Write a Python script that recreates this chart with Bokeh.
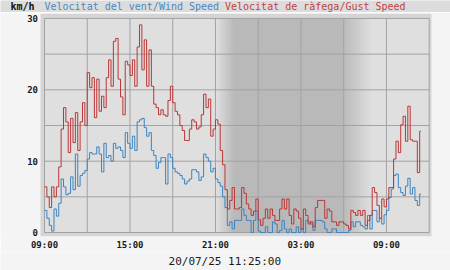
import numpy as np
from bokeh.plotting import figure
from bokeh.models import Range1d, FixedTicker
from bokeh.core.properties import value
from bokeh.layouts import column
from bokeh.embed import file_html
from bokeh.resources import INLINE

# ---------------- data (10-minute samples from 09:00, km/h) ----------------
step_minutes = 10
end_hours = 26 + 25 / 60          # last record 11:25 next day (hours after 09:00)

wind_speed = [
    3.1, 2.0, 1.0, 0.2, 3.3, 2.3, 4.1, 7.5, 6.4, 5.3, 5.5, 7.8, 6.0, 11.0, 6.5, 8.0,
    8.3, 8.7, 10.3, 11.2, 11.0, 11.0, 12.0, 11.0, 8.5, 12.5, 10.5, 10.8, 10.0, 12.5,
    11.8, 12.0, 11.5, 10.5, 14.0, 12.5, 11.8, 13.5, 11.5, 15.5, 15.8,
    16.0, 14.7, 13.5, 14.0, 11.5, 10.8, 9.0, 9.8, 10.5, 10.5, 6.8, 11.0, 10.5, 9.0,
    8.5, 8.3, 8.0, 7.5, 6.8, 7.2, 7.5, 8.8, 8.8, 8.5, 7.3, 7.8, 11.0, 10.5, 10.0,
    8.5, 9.0, 7.5, 7.0, 6.5, 5.0, 3.5, 1.0, 1.5,
    0.5, 1.7, 1.7, 1.7, 3.3, 2.4, 1.7, 1.7, 0.0, 1.7, 3.0, 0.2, 0.0, 0.0, 0.8, 0.0,
    0.0, 1.5, 1.2, 0.0, 0.3, 1.7, 0.5, 0.0, 0.5, 0.0, 0.0, 0.8, 0.0, 0.5, 0.0, 1.7,
    1.5, 1.2, 0.3, 1.7, 1.7, 1.7, 1.5, 0.5, 0.0, 0.0, 0.5, 0.5,
    0.0, 0.0, 0.0, 0.0, 0.0, 0.3, 1.5, 0.8, 1.5, 1.5, 1.0, 0.8, 0.5, 2.4, 0.5, 3.1,
    3.1, 1.5, 2.0, 1.2, 2.5, 3.1, 4.9, 6.1, 8.0, 8.2, 6.3, 5.6, 5.2, 6.5, 7.6, 5.4,
    6.3, 4.5, 3.8, 5.4,
]

wind_gust = [
    6.4, 5.0, 3.5, 6.4, 5.0, 6.4, 9.2, 14.5, 17.5, 15.5, 11.2, 16.0, 12.6, 16.8, 11.5,
    15.5, 18.2, 15.0, 22.4, 20.3, 21.7, 16.1, 21.5, 17.0, 19.1, 17.5, 21.7, 24.2, 20.5,
    26.8, 27.2, 21.5, 19.0, 16.5, 24.0, 23.5, 22.0, 24.2, 20.5, 26.0, 29.1,
    22.8, 27.0, 20.5, 25.6, 20.5, 18.0, 17.5, 16.5, 17.2, 16.5, 16.3, 18.5, 20.5, 18.2,
    17.0, 16.5, 15.0, 14.3, 12.9, 12.9, 14.5, 15.8, 15.5, 14.5, 14.8, 16.5, 19.4, 17.5,
    18.7, 13.5, 14.5, 15.8, 15.2, 11.5, 9.5, 6.0, 3.3, 4.5,
    6.3, 3.3, 3.3, 3.5, 6.3, 5.5, 4.0, 3.3, 2.4, 3.0, 4.7, 1.8, 1.0, 2.0, 3.3, 2.0,
    3.3, 2.4, 1.7, 1.7, 3.3, 4.7, 3.3, 4.7, 2.4, 1.2, 3.3, 3.0, 2.0, 0.5, 3.3, 2.4,
    1.2, 1.5, 0.8, 3.5, 4.5, 4.5, 4.5, 2.0, 3.3, 3.0, 1.5, 1.5,
    1.0, 1.5, 1.5, 1.2, 1.0, 0.5, 3.1, 2.8, 2.4, 3.1, 2.4, 3.1, 1.0, 1.7, 2.4, 6.3,
    5.6, 3.8, 2.0, 4.7, 3.6, 4.7, 6.3, 6.3, 10.3, 12.8, 11.2, 15.1, 16.3, 12.8, 17.7,
    13.0, 12.8, 12.8, 8.4, 14.2,
]

x_ticks = [0, 6, 12, 18, 24]
x_tick_labels = ["09:00", "15:00", "21:00", "03:00", "09:00"]
x_grid = [3, 6, 9, 12, 15, 18, 21, 24]
y_ticks = [0, 10, 20, 30]
y_tick_labels = ["0", "10", "20", "30"]
y_grid = [5, 10, 15, 20, 25]
x_min, x_max = 0, 27
y_min, y_max = 0, 30
dusk = (12.07, 13.26)   # hours after 09:00
dawn = (21.0, 22.9)

unit_text = "km/h"
wind_title = "Velocitat del vent/Wind Speed"
gust_title = "Velocitat de ràfega/Gust Speed"
date_text = "20/07/25 11:25:00"

# ---------------- styles ----------------
PAGE = "#f4f4f4"
HEADER = "#dcdcdc"
RIM = "#d5d5d5"
DAY = 223
NIGHT = 185
GRID = "#a2a2a2"
BLUE = "#3c84c2"
RED = "#bb3636"
BLUE_T = "#4a88c2"
RED_T = "#c04242"
MONO = "DejaVu Sans Mono"
W = 450


def strip(height, fill):
    f = figure(width=W, height=height, title=None,
               x_range=Range1d(0, W), y_range=Range1d(0, height),
               x_axis_type=None, y_axis_type=None,
               min_border_left=0, min_border_right=0, min_border_top=0,
               min_border_bottom=0, toolbar_location=None, output_backend="svg",
               background_fill_color=fill, border_fill_color=fill,
               outline_line_color=None)
    f.grid.visible = False
    return f


# ---------------- header ----------------
head = strip(12, HEADER)
head.text(x=[10], y=[6], text=[unit_text], text_color="#111111",
          text_font=value(MONO), text_font_size="10px", text_font_style="bold",
          text_baseline="middle", text_align="left")
head.text(x=[44], y=[6], text=[wind_title], text_color=BLUE_T,
          text_font=value(MONO), text_font_size="10px",
          text_baseline="middle", text_align="left")
head.text(x=[224.5], y=[6], text=[gust_title], text_color=RED_T,
          text_font=value(MONO), text_font_size="10px",
          text_baseline="middle", text_align="left")

# ---------------- main plot (frame spans the full width) ----------------
inner_left_px, inner_right_px = 44.0, 428.7
rim_left_px, rim_right_px = 40.0, 431.0
px_per_h = (inner_right_px - inner_left_px) / (x_max - x_min)
px_per_u = 7.2
p = figure(width=W, height=240,
           x_range=Range1d(x_min - inner_left_px / px_per_h,
                           x_max + (W - inner_right_px) / px_per_h),
           y_range=Range1d(y_min - 4 / px_per_u, y_max + 5 / px_per_u),
           y_axis_type=None,
           min_border_left=0, min_border_right=0, min_border_top=1,
           min_border_bottom=14, toolbar_location=None, output_backend="svg",
           background_fill_color=PAGE, border_fill_color=PAGE,
           outline_line_color=None)
p.grid.visible = False

# rim and inner plot area
p.quad(left=[x_min - (inner_left_px - rim_left_px) / px_per_h],
       right=[x_max + (rim_right_px - inner_right_px) / px_per_h],
       bottom=[y_min - 4 / px_per_u], top=[y_max + 5 / px_per_u],
       fill_color=RIM, line_color=None)
p.quad(left=[x_min], right=[x_max], bottom=[y_min], top=[y_max],
       fill_color="#%02x%02x%02x" % (DAY, DAY, DAY), line_color=None)

# night shading with soft edges (nested bands)
n = 14
for k in range(n + 1):
    left = dusk[0] + (dusk[1] - dusk[0]) * k / n
    right = dawn[1] - (dawn[1] - dawn[0]) * k / n
    t = (k + 1) / (n + 1)
    g = int(round(DAY + (NIGHT - DAY) * t))
    p.quad(left=[left], right=[right], bottom=[y_min], top=[y_max],
           fill_color="#%02x%02x%02x" % (g, g, g), line_color=None)

# grid lines
p.segment(x0=x_grid, y0=[y_min] * len(x_grid), x1=x_grid, y1=[y_max] * len(x_grid),
          line_color=GRID, line_width=1)
p.segment(x0=[x_min] * len(y_grid), y0=y_grid, x1=[x_max] * len(y_grid), y1=y_grid,
          line_color=GRID, line_width=1)
p.quad(left=[x_min], right=[x_max], bottom=[y_min], top=[y_max],
       fill_color=None, line_color=GRID, line_width=1)

# series
hours = [i * step_minutes / 60 for i in range(len(wind_speed))] + [end_hours]
ws = wind_speed + [wind_speed[-1]]
wg = wind_gust + [wind_gust[-1]]
p.step(hours, ws, mode="after", line_color=BLUE, line_width=1)
p.step(hours, wg, mode="after", line_color=RED, line_width=1)

# y tick labels (left of the rim, through the y scale)
p.text(x=[x_min - 6.5 / px_per_h] * len(y_ticks), y=y_ticks, text=y_tick_labels,
       text_color="#1a1a1a", text_font=value(MONO), text_font_size="9px",
       text_font_style="bold", text_align="right", text_baseline="middle")

# x axis
ax = p.xaxis
ax.axis_line_color = None
ax.major_tick_line_color = None
ax.minor_tick_line_color = None
ax.major_tick_out = 0
ax.major_tick_in = 0
ax.major_label_text_font = MONO
ax.major_label_text_font_style = "bold"
ax.major_label_text_font_size = "9px"
ax.major_label_text_color = "#1a1a1a"
ax.ticker = FixedTicker(ticks=x_ticks)
ax.major_label_overrides = {t: l for t, l in zip(x_ticks, x_tick_labels)}
ax.major_label_standoff = 3

# ---------------- footer with the date stamp ----------------
foot = strip(18, PAGE)
foot.text(x=[224.3], y=[9], text=[date_text], text_color="#1a1a1a",
          text_font=value(MONO), text_font_size="11px",
          text_baseline="middle", text_align="center")

layout = column(head, p, foot, spacing=0)
open("out.html", "w").write(file_html(layout, INLINE))
